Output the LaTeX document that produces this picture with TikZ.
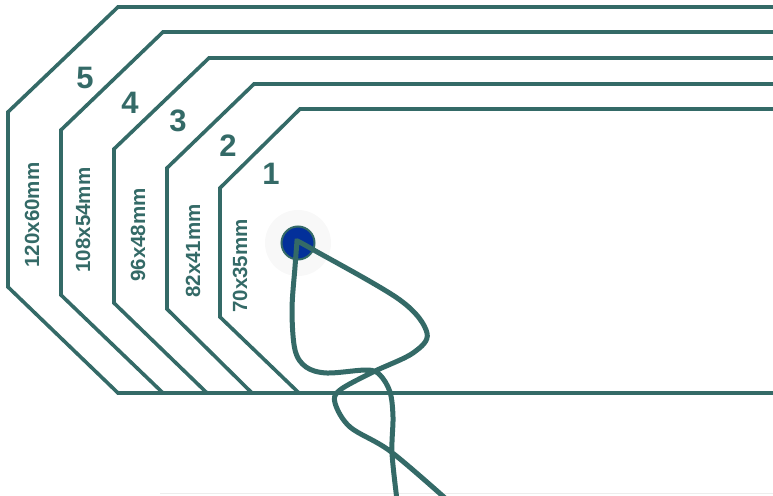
\documentclass[tikz,border=0pt]{standalone}
\usepackage{fontspec}
\setmainfont{Liberation Sans}
\definecolor{tealline}{HTML}{346A67}
\definecolor{holeblue}{HTML}{03309A}
\definecolor{halo}{HTML}{F8F8F8}
\begin{document}
\begin{tikzpicture}[x=1pt,y=-1pt,
  tagline/.style={draw=tealline, line width=3.6pt, line join=miter},
  sizelabel/.style={text=tealline, font=\bfseries\fontsize{20.5}{21}\selectfont, rotate=90, inner sep=0pt},
  numlabel/.style={text=tealline, font=\bfseries\fontsize{31}{32}\selectfont, inner sep=0pt},
  stringline/.style={draw=tealline, line width=5pt, line join=miter, line cap=butt}]
\useasboundingbox (0,0) rectangle (773,495);
\clip (0,0) rectangle (773,495);
% faint bottom edge
\draw[color=black!7, line width=1pt] (160,493.5) -- (780,493.5);
% tag outlines (5 = largest)
\draw[tagline] (780,7) -- (118,7) -- (8,112) -- (8,287) -- (118,393) -- (780,393);
\draw[tagline] (780,32) -- (163,32) -- (61,130) -- (61,295) -- (163,393);
\draw[tagline] (780,58) -- (209,58) -- (114,149) -- (114,303) -- (207,393);
\draw[tagline] (780,84) -- (254,84) -- (167,168) -- (167,309) -- (252,393);
\draw[tagline] (780,109) -- (300,109) -- (220,188) -- (220,317) -- (299,393);
% numbers
\node[numlabel] (n5) at (85,78) {5};
\node[numlabel] (n4) at (130,103) {4};
\node[numlabel] (n3) at (178,121) {3};
\node[numlabel] (n2) at (228,146) {2};
\node[numlabel] (n1) at (271,174) {1};
% size labels
\node[sizelabel] (s5) at (32,215) {120x60mm};
\node[sizelabel] (s4) at (83,220) {108x54mm};
\node[sizelabel] (s3) at (138,235) {96x48mm};
\node[sizelabel] (s2) at (193,251) {82x41mm};
\node[sizelabel] (s1) at (240,266) {70x35mm};
% hole
\fill[halo] (298,243) circle[radius=33];
\node[circle, fill=holeblue, draw=tealline, line width=2pt, minimum size=33pt, inner sep=0pt] (hole) at (298,243) {};
% string
\draw[stringline]
  plot[smooth, tension=0.55] coordinates {(397,500) (392,453) (393,417) (390,392) (380,375) (367,370) (327,373) (306,367) (295,350) (292,310) (295,267) (297,241)}
  -- plot[smooth, tension=0.55] coordinates {(297,241) (312,249) (400,300) (427,333) (413,353) (373,372) (340,390) (335,403) (350,427) (390,451) (445,498)};
\end{tikzpicture}
\end{document}
